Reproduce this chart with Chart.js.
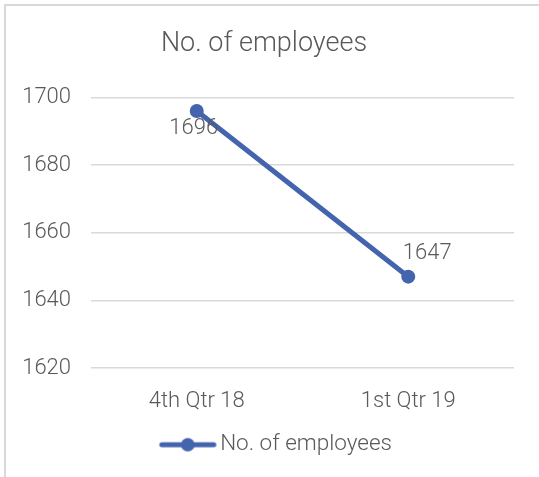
<!DOCTYPE html>
<html>
<head>
<meta charset="utf-8">
<script src="https://cdn.jsdelivr.net/npm/chart.js@4"></script>
<style>
  html, body { margin: 0; padding: 0; background: #fff; overflow: hidden; }
  #frame { position: absolute; left: 4px; top: 4px; width: 700px; height: 700px; border: 2px solid #d9d9d9; }
  #chart { position: absolute; left: 0; top: 0; }
</style>
</head>
<body>
<div id="frame"></div>
<canvas id="chart" width="539" height="477"></canvas>
<script>
const categories = ["4th Qtr 18", "1st Qtr 19"];
const employees = [1696, 1647];
const seriesName = "No. of employees";
const chartTitle = "No. of employees";
const yTicks = [1620, 1640, 1660, 1680, 1700];

const FONT = "Roboto";
const TEXT = "#595959";
const BLUE = "#4564ae";
const fontOf = size => ({ family: FONT, size: size, weight: 300 });

// legend swatch: line with a dot, built as an image so the text sits close to it
const measure = document.createElement("canvas").getContext("2d");
measure.font = `300 22.5px ${FONT}`;
const textW = measure.measureText(seriesName).width;
const boxW = Math.max(textW - 99, 20);
const lineRight = boxW / 2 + 7;
const lineLeft = lineRight - 57;
const half = Math.max(Math.abs(lineLeft), Math.abs(lineRight)) + 8;
const swatch = document.createElement("canvas");
swatch.width = half * 2;
swatch.height = 16;
{
  const s = swatch.getContext("2d");
  s.strokeStyle = BLUE;
  s.fillStyle = BLUE;
  s.lineWidth = 5;
  s.lineCap = "round";
  s.beginPath();
  s.moveTo(half + lineLeft + 2.5, 8);
  s.lineTo(half + lineRight - 2.5, 8);
  s.stroke();
  s.beginPath();
  s.arc(half + lineLeft + 28.5, 8, 6.8, 0, Math.PI * 2);
  s.fill();
}

// value labels, nudged off the points like the original
const labelOffsets = [[-3, 17.5], [19, -23]];
const pointLabels = {
  id: "pointLabels",
  afterDatasetsDraw(chart) {
    const ctx = chart.ctx;
    const meta = chart.getDatasetMeta(0);
    ctx.save();
    ctx.font = `300 22px ${FONT}`;
    ctx.fillStyle = TEXT;
    ctx.textAlign = "center";
    ctx.textBaseline = "middle";
    meta.data.forEach((pt, i) => {
      const [dx, dy] = labelOffsets[i];
      ctx.fillText(String(employees[i]), pt.x + dx, pt.y + dy);
    });
    ctx.restore();
  }
};

new Chart(document.getElementById("chart"), {
  type: "line",
  data: {
    labels: categories,
    datasets: [{
      label: seriesName,
      data: employees,
      borderColor: BLUE,
      backgroundColor: BLUE,
      borderWidth: 5,
      borderCapStyle: "round",
      tension: 0,
      pointRadius: 7,
      pointBorderWidth: 0,
      pointBackgroundColor: BLUE
    }]
  },
  options: {
    responsive: false,
    animation: false,
    devicePixelRatio: 1,
    layout: { padding: { left: 0, right: 11, top: 0, bottom: 11 } },
    scales: {
      x: {
        offset: true,
        grid: { display: false },
        border: { display: false },
        ticks: { color: TEXT, font: fontOf(22), padding: 12 },
        afterFit: s => { s.height = 55.5; }
      },
      y: {
        min: 1620,
        max: 1700,
        afterBuildTicks: s => { s.ticks = yTicks.map(v => ({ value: v })); },
        grid: { color: "#d9d9d9", lineWidth: 1.5, drawTicks: false },
        border: { display: false },
        ticks: { color: TEXT, font: fontOf(22), padding: 20, callback: v => String(v) },
        afterFit: s => { s.width = 91; }
      },
      yRight: {
        type: "linear",
        axis: "y",
        position: "right",
        grid: { display: false },
        border: { display: false },
        ticks: { display: false },
        afterFit: s => { s.width = 14; }
      }
    },
    plugins: {
      title: {
        display: true,
        text: chartTitle,
        color: TEXT,
        font: fontOf(27),
        padding: { top: 28, bottom: 37 }
      },
      legend: {
        position: "bottom",
        labels: {
          usePointStyle: true,
          pointStyleWidth: boxW,
          color: TEXT,
          font: fontOf(22.5),
          padding: 10,
          generateLabels: () => [{
            text: seriesName,
            pointStyle: swatch,
            fontColor: TEXT,
            fillStyle: BLUE,
            strokeStyle: BLUE,
            lineWidth: 0,
            datasetIndex: 0
          }]
        }
      },
      tooltip: { enabled: false }
    }
  },
  plugins: [pointLabels]
});
</script>
</body>
</html>
